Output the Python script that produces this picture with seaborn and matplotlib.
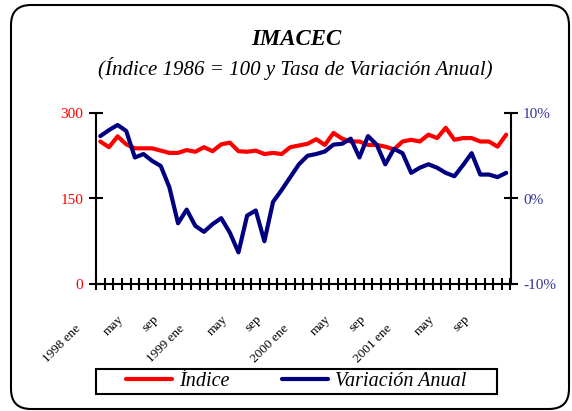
import numpy as np
import pandas as pd
import seaborn as sns
import matplotlib.pyplot as plt
from matplotlib.patches import FancyBboxPatch, Rectangle
from matplotlib.lines import Line2D
from matplotlib.transforms import ScaledTranslation

# datos mensuales 1998 ene - 2001 dic
indice = [250, 240, 259, 245, 238, 238, 238, 234, 230, 230, 235, 232,
          240, 233, 245, 248, 233, 232, 234, 228, 230, 228, 240, 243,
          246, 254, 244, 265, 255, 250, 250, 244, 244, 241, 236, 250,
          253, 250, 262, 256, 274, 253, 256, 256, 250, 250, 241, 262]
variacion = [7.3, 8.0, 8.6, 7.9, 4.8, 5.2, 4.4, 3.8, 1.3, -2.9, -1.3, -3.2,
             -3.9, -3.0, -2.3, -4.0, -6.3, -2.0, -1.4, -5.0, -0.4, 1.0, 2.5, 4.0,
             5.0, 5.2, 5.5, 6.3, 6.4, 7.0, 4.8, 7.3, 6.3, 4.0, 5.8, 5.3,
             3.0, 3.6, 4.0, 3.6, 3.0, 2.6, 3.9, 5.3, 2.8, 2.8, 2.5, 3.0]
tick_labels = ['1998 ene', 'may', 'sep', '1999 ene', 'may', 'sep',
               '2000 ene', 'may', 'sep', '2001 ene', 'may', 'sep']

df = pd.DataFrame({'mes': np.arange(len(indice)), 'indice': indice, 'var': variacion})

sns.set_theme(style='white')
plt.rcParams['font.family'] = ['Liberation Serif', 'DejaVu Serif']
plt.rcParams['text.color'] = 'black'
plt.rcParams['axes.labelcolor'] = 'black'
plt.rcParams['xtick.color'] = 'black'
plt.rcParams['ytick.color'] = 'black'

fig = plt.figure(figsize=(5.72, 4.11), dpi=100)
ax = fig.add_axes([96 / 572, 1 - 284 / 411, (510.5 - 96) / 572, (284 - 113) / 411])
ax2 = ax.twinx()

red = '#FF0000'
navy = '#000080'
sns.lineplot(data=df, x='mes', y='indice', ax=ax, color=red, lw=3)
sns.lineplot(data=df, x='mes', y='var', ax=ax2, color=navy, lw=3)

n = len(indice)
ax.set_xlim(-0.5, n - 0.5)
ax.set_ylim(0, 300)
ax2.set_ylim(-10, 10)
ax.set_xlabel('')
ax.set_ylabel('')
ax2.set_ylabel('')

for a in (ax, ax2):
    for s in a.spines.values():
        s.set_linewidth(1.5)
        s.set_color('black')
    a.spines['top'].set_visible(False)
ax.spines['right'].set_visible(False)
ax2.spines['left'].set_visible(False)
ax2.spines['bottom'].set_visible(False)

ax.set_yticks([0, 150, 300])
ax.tick_params(axis='y', direction='inout', length=10, width=1.5, colors='black',
               labelcolor=red, labelsize=11, pad=4, left=True)
ax2.set_yticks([-10, 0, 10])
ax2.set_yticklabels(['-10%', '0%', '10%'])
ax2.tick_params(axis='y', direction='inout', length=10, width=1.5, colors='black',
                labelcolor='#333399', labelsize=11, pad=4, right=True)

# marcas en los limites de cada mes, etiquetas cada 4 meses
ax.set_xticks(np.arange(-0.5, n, 1))
ax.set_xticklabels([])
ax.tick_params(axis='x', which='major', direction='inout', length=9, width=1.5,
               colors='black', bottom=True)
ax.set_xticks(np.arange(0, n, 4), tick_labels, minor=True)
ax.tick_params(axis='x', which='minor', length=0, pad=0, labelsize=9.5,
               labelcolor='black', bottom=True)
for lab in ax.get_xticklabels(minor=True):
    lab.set_rotation(45)
    lab.set_ha('right')
    lab.set_va('center')
    lab.set_rotation_mode('anchor')
    if 'ene' in lab.get_text():
        dx, dy = -21, 43
    else:
        dx, dy = -13, 33
    lab.set_transform(lab.get_transform() + ScaledTranslation(dx / 100, -dy / 100, fig.dpi_scale_trans))

# marco exterior redondeado
fig.patches.append(FancyBboxPatch((0.11, 0.02), 5.58, 4.04,
                                  boxstyle='round,pad=0,rounding_size=0.2',
                                  transform=fig.dpi_scale_trans, fill=False,
                                  edgecolor='black', lw=1.5))

fig.text(296 / 572, 1 - 45 / 411, 'IMACEC', ha='center', va='baseline',
         fontsize=16.5, fontweight='bold', fontstyle='italic', color='black')
fig.text(295 / 572, 1 - 75 / 411, '(Índice 1986 = 100 y Tasa de Variación Anual)',
         ha='center', va='baseline', fontsize=15, fontstyle='italic', color='black')

# leyenda
fig.patches.append(Rectangle((95.7 / 572, 1 - 394 / 411), (496.7 - 95.7) / 572, 25 / 411,
                             transform=fig.transFigure, fill=False, edgecolor='black', lw=1.5))
handles = [Line2D([], [], color=red, lw=3), Line2D([], [], color=navy, lw=3)]
leg = fig.legend(handles, ['Índice', 'Variación Anual'], loc='center', ncol=2,
                 bbox_to_anchor=(296.2 / 572, 1 - 381.5 / 411), frameon=False,
                 prop={'style': 'italic', 'size': 14.5}, handlelength=2.3,
                 handletextpad=0.35, columnspacing=2.6, borderpad=0, borderaxespad=0)
for t in leg.get_texts():
    t.set_color('black')

plt.savefig('out.png', dpi=100)
